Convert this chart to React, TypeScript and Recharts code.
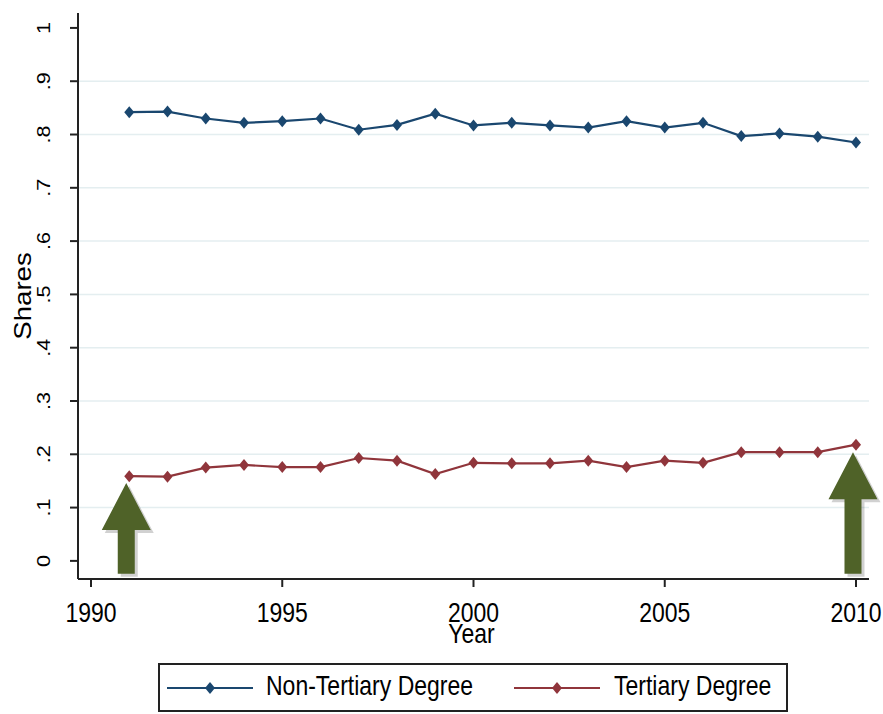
import {
  LineChart,
  Line,
  XAxis,
  YAxis,
  ReferenceLine,
  Legend,
} from 'recharts'

const YEARS = [1991, 1992, 1993, 1994, 1995, 1996, 1997, 1998, 1999, 2000,
  2001, 2002, 2003, 2004, 2005, 2006, 2007, 2008, 2009, 2010]
const NON_TERTIARY = [0.842, 0.843, 0.830, 0.822, 0.825, 0.830, 0.809, 0.818, 0.839, 0.817,
  0.822, 0.817, 0.813, 0.825, 0.813, 0.822, 0.797, 0.802, 0.796, 0.785]
const TERTIARY = [0.159, 0.158, 0.175, 0.180, 0.176, 0.176, 0.193, 0.188, 0.163, 0.184,
  0.183, 0.183, 0.188, 0.176, 0.188, 0.184, 0.204, 0.204, 0.204, 0.218]

const X_TICKS = [1990, 1995, 2000, 2005, 2010]
const Y_TICKS = [0, 0.1, 0.2, 0.3, 0.4, 0.5, 0.6, 0.7, 0.8, 0.9, 1]
const GRID_VALUES = [0.1, 0.2, 0.3, 0.4, 0.5, 0.6, 0.7, 0.8, 0.9]

// green arrows pointing at the first and last tertiary shares
const ARROW_YEARS = [1991, 2010]
const ARROW_TIPS = [0.146, 0.204]
const ARROW_BASE = -0.024

const NAVY = '#1a476f'
const MAROON = '#90353b'
const ARROW_GREEN = '#4f6228'
const FONT = '"Liberation Sans", Arial, sans-serif'
const STRETCH = 1.2

const data = YEARS.map((year, i) => ({
  year,
  nonTertiary: NON_TERTIARY[i],
  tertiary: TERTIARY[i],
}))

const fmtShare = (v: number) => {
  if (v === 0) return '0'
  if (v === 1) return '1'
  return '.' + Math.round(v * 10)
}

const Diamond = ({ cx, cy, fill }: any) => {
  if (cx == null || cy == null) return null
  return (
    <polygon
      points={`${cx},${cy - 6} ${cx + 5},${cy} ${cx},${cy + 6} ${cx - 5},${cy}`}
      fill={fill}
    />
  )
}

const XTick = ({ x, y, payload }: any) => (
  <g transform={`translate(${x},${y}) scale(1,${STRETCH})`}>
    <text x={0} y={27.5} textAnchor="middle" fontSize={23} fontFamily={FONT} fill="#000">
      {payload.value}
    </text>
  </g>
)

const YTick = ({ x, y, payload }: any) => (
  <g transform={`translate(${x - 18},${y}) scale(1,${STRETCH}) rotate(-90)`}>
    <text x={0} y={0} textAnchor="middle" fontSize={18} fontFamily={FONT} fill="#000">
      {fmtShare(payload.value)}
    </text>
  </g>
)

const XTitle = ({ viewBox }: any) => {
  const cx = viewBox.x + viewBox.width / 2 - 2
  const by = viewBox.y + 64
  return (
    <g transform={`translate(${cx},${by}) scale(1,${STRETCH})`}>
      <text x={0} y={0} textAnchor="middle" fontSize={23} fontFamily={FONT} fill="#000">
        Year
      </text>
    </g>
  )
}

const YTitle = ({ viewBox }: any) => {
  const cy = viewBox.y + viewBox.height / 2
  return (
    <g transform={`translate(31,${cy}) scale(1,${STRETCH}) rotate(-90)`}>
      <text x={0} y={0} textAnchor="middle" fontSize={23} fontFamily={FONT} fill="#000">
        Shares
      </text>
    </g>
  )
}

const Arrow = ({ x1, y1, y2 }: any) => {
  if (x1 == null || y1 == null || y2 == null) return null
  const x = x1 - 3
  const headH = 47
  const headW = 24.5
  const shaftW = 8.5
  const pts = [
    [x, y1],
    [x + headW, y1 + headH],
    [x + shaftW, y1 + headH],
    [x + shaftW, y2],
    [x - shaftW, y2],
    [x - shaftW, y1 + headH],
    [x - headW, y1 + headH],
  ]
  const str = pts.map((p) => p.join(',')).join(' ')
  return (
    <g>
      <polygon points={str} fill="#000" opacity={0.18} transform="translate(3,3)" />
      <polygon points={str} fill={ARROW_GREEN} />
    </g>
  )
}

const LegendSample = ({ color }: { color: string }) => (
  <svg width={86} height={14} style={{ display: 'block' }}>
    <line x1={0} y1={7} x2={86} y2={7} stroke={color} strokeWidth={2} />
    <polygon points="43,1 48,7 43,13 38,7" fill={color} />
  </svg>
)

const legendText: React.CSSProperties = {
  position: 'absolute',
  top: 9,
  fontSize: 23,
  lineHeight: '23px',
  fontFamily: FONT,
  color: '#000',
  transform: `scaleY(${STRETCH})`,
  whiteSpace: 'nowrap',
}

const LegendBox = () => (
  <div
    style={{
      width: 630,
      height: 49,
      boxSizing: 'border-box',
      border: '2px solid #222',
      background: '#fff',
      position: 'relative',
    }}
  >
    <div style={{ position: 'absolute', left: 7, top: 16 }}>
      <LegendSample color={NAVY} />
    </div>
    <span style={{ ...legendText, left: 106 }}>Non-Tertiary Degree</span>
    <div style={{ position: 'absolute', left: 354, top: 16 }}>
      <LegendSample color={MAROON} />
    </div>
    <span style={{ ...legendText, left: 454 }}>Tertiary Degree</span>
  </div>
)

export default function App() {
  return (
    <div style={{ width: 883, height: 714, background: '#fff' }}>
      <style>{'body{margin:0;background:#fff}'}</style>
      <LineChart
        width={883}
        height={714}
        data={data}
        margin={{ top: 13, right: 14, left: 0, bottom: 0 }}
      >
        {GRID_VALUES.map((v) => (
          <ReferenceLine key={v} y={v} stroke="#e4eef0" strokeWidth={1.5} />
        ))}
        <XAxis
          dataKey="year"
          type="number"
          domain={[1989.66, 2010.34]}
          allowDataOverflow
          ticks={X_TICKS}
          height={86}
          tickSize={8}
          stroke="#222"
          strokeWidth={2}
          tick={<XTick />}
          label={{ content: <XTitle /> }}
        />
        <YAxis
          type="number"
          domain={[-0.034, 1.028]}
          allowDataOverflow
          ticks={Y_TICKS}
          width={78}
          tickSize={8}
          stroke="#222"
          strokeWidth={2}
          tick={<YTick />}
          label={{ content: <YTitle /> }}
        />
        <Line
          type="linear"
          dataKey="nonTertiary"
          name="Non-Tertiary Degree"
          stroke={NAVY}
          strokeWidth={2.2}
          dot={<Diamond fill={NAVY} />}
          activeDot={false}
          isAnimationActive={false}
        />
        <Line
          type="linear"
          dataKey="tertiary"
          name="Tertiary Degree"
          stroke={MAROON}
          strokeWidth={2.2}
          dot={<Diamond fill={MAROON} />}
          activeDot={false}
          isAnimationActive={false}
        />
        {ARROW_YEARS.map((yr, i) => (
          <ReferenceLine
            key={yr}
            segment={[
              { x: yr, y: ARROW_TIPS[i] },
              { x: yr, y: ARROW_BASE },
            ]}
            shape={<Arrow />}
          />
        ))}
        <Legend
          verticalAlign="bottom"
          content={() => <LegendBox />}
          wrapperStyle={{ left: 158, bottom: 2, width: 630, height: 49 }}
        />
      </LineChart>
    </div>
  )
}
